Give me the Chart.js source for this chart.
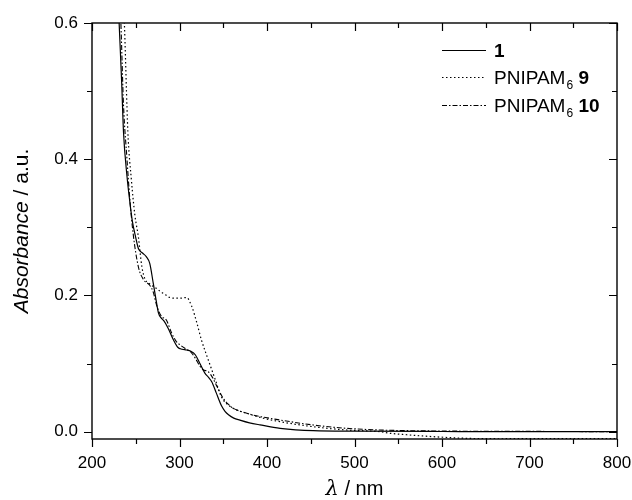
<!DOCTYPE html>
<html>
<head>
<meta charset="utf-8">
<script src="https://cdn.jsdelivr.net/npm/chart.js@4/dist/chart.umd.min.js"></script>
<style>
  html, body { margin: 0; padding: 0; background: #fff; }
  #wrap { width: 632px; height: 500px; }
</style>
</head>
<body>
<div id="wrap"><canvas id="chart"></canvas></div>
<script>
// UV-Vis spectra: wavelength (nm) and absorbance for each sample
const lambda1 = [229, 231, 234, 236, 240, 243, 246, 250, 253, 258, 262, 266, 270, 273, 276, 279, 282, 287, 293, 298, 303, 308, 313, 318, 323, 329, 333, 337, 342, 348, 352, 356, 362, 369, 380, 392, 415, 453, 500, 600, 700, 800];
const abs1 = [0.66, 0.60, 0.51, 0.44, 0.375, 0.34, 0.31, 0.285, 0.269, 0.262, 0.257, 0.247, 0.218, 0.195, 0.174, 0.167, 0.163, 0.152, 0.135, 0.124, 0.121, 0.120, 0.118, 0.113, 0.101, 0.086, 0.080, 0.073, 0.057, 0.038, 0.030, 0.025, 0.020, 0.017, 0.013, 0.010, 0.005, 0.0015, 0.0008, 0.0003, 0.0, 0.0];

const lambda9 = [235, 237, 241, 245, 249, 253, 257, 261, 264, 268, 273, 278, 284, 289, 295, 301, 308, 314, 320, 325, 333, 341, 348, 358, 367, 377, 395, 415, 453, 491, 529, 541, 560, 590, 628, 666, 700, 800];
const abs9 = [0.66, 0.60, 0.44, 0.37, 0.318, 0.286, 0.242, 0.223, 0.219, 0.215, 0.211, 0.206, 0.201, 0.197, 0.196, 0.196, 0.197, 0.184, 0.159, 0.135, 0.105, 0.076, 0.051, 0.037, 0.031, 0.027, 0.020, 0.0147, 0.0073, 0.0025, 0.0, -0.0024, -0.0045, -0.0073, -0.0097, -0.0103, -0.0102, -0.0102];

const lambda10 = [231, 233, 236, 240, 243, 247, 253, 259, 266, 270, 274, 279, 285, 291, 296, 301, 308, 313, 318, 323, 327, 333, 338, 343, 350, 356, 362, 372, 384, 415, 453, 491, 529, 600, 700, 800];
const abs10 = [0.66, 0.60, 0.48, 0.40, 0.345, 0.291, 0.242, 0.223, 0.215, 0.205, 0.185, 0.170, 0.164, 0.145, 0.133, 0.127, 0.121, 0.117, 0.108, 0.097, 0.091, 0.088, 0.079, 0.066, 0.049, 0.040, 0.034, 0.029, 0.0245, 0.0172, 0.0098, 0.005, 0.0025, 0.001, 0.0005, 0.0];

// Axis ranges and ticks
const xMin = 200, xMax = 800;
const yMin = -0.0107, yMax = 0.6;
const xMajorTicks = [200, 300, 400, 500, 600, 700, 800];
const xMinorTicks = [250, 350, 450, 550, 650, 750];
const yMajorTicks = [0.0, 0.2, 0.4, 0.6];
const yMinorTicks = [0.1, 0.3, 0.5];

// Legend entries: main label, subscript, bold number
const legendLabels = [
    { text: '', sub: '', bold: '1' },
    { text: 'PNIPAM', sub: '6', bold: ' 9' },
    { text: 'PNIPAM', sub: '6', bold: ' 10' }
];

const FONT = '"Liberation Sans", Arial, sans-serif';
const dashes = [[], [1.5, 2.5], [5, 2, 1.5, 2]];

function toPoints(xs, ys) {
    return xs.map((x, i) => ({ x: x, y: ys[i] }));
}

const datasets = [
    { data: toPoints(lambda1, abs1), borderDash: dashes[0], borderWidth: 1.2 },
    { data: toPoints(lambda9, abs9), borderDash: dashes[1], borderWidth: 1.2 },
    { data: toPoints(lambda10, abs10), borderDash: dashes[2], borderWidth: 1.1 }
].map(ds => Object.assign(ds, {
    borderColor: '#000',
    pointRadius: 0,
    fill: false,
    tension: 0.4,
    cubicInterpolationMode: 'monotone'
}));

/**
 * Frame, tick marks, axis titles and the legend.
 */
const decorations = {
    id: 'decorations',
    afterDraw(chart) {
        const ctx = chart.ctx;
        const area = chart.chartArea;
        const xs = chart.scales.x;
        const ys = chart.scales.y;
        ctx.save();
        ctx.strokeStyle = '#000';
        ctx.lineWidth = 1.4;
        ctx.strokeRect(area.left, area.top, area.right - area.left, area.bottom - area.top);

        ctx.lineWidth = 1.2;
        ctx.beginPath();
        // bottom (outward) and top (inward) ticks
        const xTick = (v, len) => {
            const px = Math.round(xs.getPixelForValue(v)) + 0.5;
            ctx.moveTo(px, area.bottom); ctx.lineTo(px, area.bottom + len);
            ctx.moveTo(px, area.top); ctx.lineTo(px, area.top + len);
        };
        xMajorTicks.forEach(v => xTick(v, 8));
        xMinorTicks.forEach(v => xTick(v, 5));
        // left (outward) and right (inward) ticks
        const yTick = (v, len) => {
            const py = Math.round(ys.getPixelForValue(v)) + 0.5;
            ctx.moveTo(area.left, py); ctx.lineTo(area.left - len, py);
            ctx.moveTo(area.right, py); ctx.lineTo(area.right - len, py);
        };
        yMajorTicks.forEach(v => yTick(v, 8));
        yMinorTicks.forEach(v => yTick(v, 5));
        ctx.stroke();

        ctx.fillStyle = '#000';
        ctx.textBaseline = 'alphabetic';

        // x title: italic lambda + " / nm"
        const xt1 = 'λ', xt2 = ' / nm';
        ctx.font = 'italic 21px "DejaVu Serif", serif';
        const w1 = ctx.measureText(xt1).width;
        ctx.font = '20px ' + FONT;
        const w2 = ctx.measureText(xt2).width;
        const x0 = (area.left + area.right) / 2 - (w1 + w2) / 2;
        ctx.font = 'italic 21px "DejaVu Serif", serif';
        ctx.fillText(xt1, x0, 495);
        ctx.font = '20px ' + FONT;
        ctx.fillText(xt2, x0 + w1, 495);

        // y title: italic "Absorbance" + " / a.u.", rotated
        ctx.save();
        ctx.translate(28, (area.top + area.bottom) / 2);
        ctx.rotate(-Math.PI / 2);
        const yt1 = 'Absorbance', yt2 = ' / a.u.';
        ctx.font = 'italic 21px ' + FONT;
        const v1 = ctx.measureText(yt1).width;
        ctx.font = '21px ' + FONT;
        const v2 = ctx.measureText(yt2).width;
        const y0 = -(v1 + v2) / 2;
        ctx.font = 'italic 21px ' + FONT;
        ctx.fillText(yt1, y0, 0);
        ctx.font = '21px ' + FONT;
        ctx.fillText(yt2, y0 + v1, 0);
        ctx.restore();

        // legend
        const rows = [50, 77, 105];
        legendLabels.forEach((item, i) => {
            const y = rows[i];
            ctx.beginPath();
            ctx.setLineDash(dashes[i]);
            ctx.lineWidth = 1.1;
            ctx.moveTo(442, y + 0.5);
            ctx.lineTo(486, y + 0.5);
            ctx.stroke();
            ctx.setLineDash([]);
            let tx = 494;
            const base = y + 7;
            if (item.text) {
                ctx.font = '19px ' + FONT;
                ctx.fillText(item.text, tx, base);
                tx += ctx.measureText(item.text).width;
            }
            if (item.sub) {
                ctx.font = '12px ' + FONT;
                ctx.fillText(item.sub, tx + 1, base + 5);
                tx += ctx.measureText(item.sub).width + 1;
            }
            ctx.font = 'bold 19px ' + FONT;
            ctx.fillText(item.bold, tx, base);
        });
        ctx.restore();
    }
};

new Chart(document.getElementById('chart').getContext('2d'), {
    type: 'line',
    data: { datasets: datasets },
    options: {
        responsive: true,
        maintainAspectRatio: false,
        animation: false,
        layout: { padding: { top: 23, right: 15, left: 0, bottom: 0 } },
        plugins: { legend: { display: false }, tooltip: { enabled: false } },
        scales: {
            x: {
                type: 'linear',
                min: xMin,
                max: xMax,
                grid: { display: false, drawTicks: false },
                border: { display: false },
                afterBuildTicks: scale => { scale.ticks = xMajorTicks.map(v => ({ value: v })); },
                afterFit: scale => {
                    scale.height = 61;
                    scale.paddingLeft = 0;
                    scale.paddingRight = 0;
                },
                ticks: {
                    color: '#000',
                    padding: 14,
                    maxRotation: 0,
                    font: { family: FONT, size: 17 },
                    callback: v => String(v)
                }
            },
            y: {
                type: 'linear',
                min: yMin,
                max: yMax,
                grid: { display: false, drawTicks: false },
                border: { display: false },
                afterBuildTicks: scale => { scale.ticks = yMajorTicks.map(v => ({ value: v })); },
                afterFit: scale => {
                    scale.width = 92;
                    scale.paddingTop = 0;
                    scale.paddingBottom = 0;
                },
                ticks: {
                    color: '#000',
                    padding: 14,
                    font: { family: FONT, size: 17 },
                    callback: v => v.toFixed(1)
                }
            }
        }
    },
    plugins: [decorations]
});
</script>
</body>
</html>
